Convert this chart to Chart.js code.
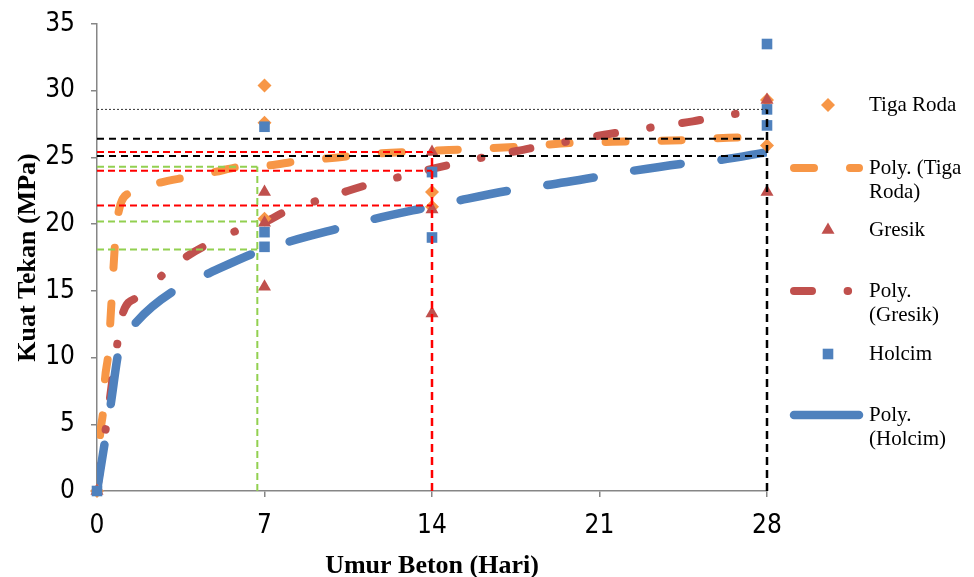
<!DOCTYPE html>
<html lang="id">
<head>
<meta charset="UTF-8">
<title>Kuat Tekan Beton</title>
<script src="https://cdn.jsdelivr.net/npm/chart.js"></script>
<style>
    body { margin: 0; background: #fff; }
    #wrap { width: 974px; height: 577px; position: relative; }
</style>
</head>
<body>
<div id="wrap"><canvas id="kuatTekanChart"></canvas></div>
<script>
// --- data ---
const ageTicks = [0, 7, 14, 21, 28];

const tigaRodaAge      = [0, 7, 7, 7, 14, 14, 28, 28];
const tigaRodaStrength = [0, 30.4, 27.6, 20.4, 22.4, 21.3, 29.3, 25.9];
const gresikAge        = [0, 7, 7, 7, 14, 14, 14, 28, 28];
const gresikStrength   = [0, 22.4, 20.1, 15.3, 25.4, 21.1, 13.3, 29.3, 22.4];
const holcimAge        = [0, 7, 7, 7, 14, 14, 28, 28, 28];
const holcimStrength   = [0, 27.3, 19.4, 18.3, 23.9, 19.0, 33.5, 28.6, 27.4];

// trendlines (Poly.)
const polyTigaRodaAge      = [0, 0.13, 0.26, 0.33, 0.47, 0.61, 0.76, 0.9, 1.4, 2.6, 3.7, 4.9, 6, 7.2, 8.3, 9.5, 10.6, 11.8, 14.1, 15.3, 17.6, 20, 22.3, 24.6, 27, 28];
const polyTigaRodaStrength = [0, 4.2, 6.1, 8.3, 10.3, 14.3, 18.7, 20.9, 22.4, 23.1, 23.5, 23.9, 24.3, 24.4, 24.7, 24.9, 25.1, 25.3, 25.5, 25.6, 25.8, 26.1, 26.2, 26.3, 26.5, 26.5];
const polyGresikAge        = [0, 0.5, 0.83, 1.04, 1.74, 2.68, 3.68, 4.65, 5.83, 6.95, 8.05, 9.28, 10.5, 11.6, 12.8, 13.9, 15.1, 16.4, 17.6, 18.7, 20, 21.2, 22.3, 23.7, 24.9, 26, 27.3, 28];
const polyGresikStrength   = [0, 6.4, 10.8, 13.1, 14.6, 16.1, 17.5, 18.5, 19.5, 20.1, 21.1, 21.8, 22.5, 23.1, 23.6, 24.1, 24.6, 25.1, 25.5, 25.9, 26.3, 26.7, 27.0, 27.4, 27.7, 28.1, 28.4, 28.6];
const polyHolcimAge        = [0, 0.375, 0.57, 0.93, 1.67, 3.47, 4.65, 6.67, 8.05, 10.35, 11.6, 13.9, 15.2, 17.5, 18.7, 21.1, 22.4, 24.8, 26, 28];
const polyHolcimStrength   = [0, 4.2, 6.45, 10.7, 12.7, 15.3, 16.3, 17.9, 18.7, 19.8, 20.4, 21.3, 21.8, 22.6, 22.9, 23.6, 24.0, 24.6, 24.8, 25.4];

// guide lines
const greenAge = 6.7;
const greenLevels = [24.3, 20.2, 18.1];
const redAge = 14;
const redLevels = [25.4, 24.0, 21.4];
const blackAge = 28;
const blackLevels = [26.4, 25.1];
const dottedLevel = 28.6;

const ORANGE = '#F79646', RED = '#C0504D', BLUE = '#4F81BD';

function pairs(xs, ys) {
    return xs.map((x, i) => ({x: x, y: ys[i]}));
}

function guide(points, color, width, dash) {
    return {
        data: points, showLine: true, borderColor: color, borderWidth: width,
        borderDash: dash, pointRadius: 0, order: 0, clip: false
    };
}

const datasets = [];

// trendlines (bottom)
datasets.push({
    label: 'Poly. (Tiga Roda)', data: pairs(polyTigaRodaAge, polyTigaRodaStrength),
    showLine: true, borderColor: ORANGE, borderWidth: 8, borderDash: [20, 36],
    borderCapStyle: 'round', cubicInterpolationMode: 'monotone', pointRadius: 0, order: 4
});
datasets.push({
    label: 'Poly. (Gresik)', data: pairs(polyGresikAge, polyGresikStrength),
    showLine: true, borderColor: RED, borderWidth: 8, borderDash: [18, 35.6, 0.5, 31.9],
    borderDashOffset: 77.5,
    borderCapStyle: 'round', cubicInterpolationMode: 'monotone', pointRadius: 0, order: 3
});
datasets.push({
    label: 'Poly. (Holcim)', data: pairs(polyHolcimAge, polyHolcimStrength),
    showLine: true, borderColor: BLUE, borderWidth: 8.5, borderDash: [47, 41],
    borderCapStyle: 'round', cubicInterpolationMode: 'monotone', pointRadius: 0, order: 2
});

// measured points
datasets.push({
    label: 'Tiga Roda', data: pairs(tigaRodaAge, tigaRodaStrength), showLine: false,
    pointStyle: 'rectRot', pointRadius: 7, backgroundColor: ORANGE, borderColor: ORANGE,
    borderWidth: 0, order: 1.3, clip: false
});
datasets.push({
    label: 'Gresik', data: pairs(gresikAge, gresikStrength), showLine: false,
    pointStyle: 'triangle', pointRadius: 7.5, backgroundColor: RED, borderColor: RED,
    borderWidth: 0, order: 1.2, clip: false
});
datasets.push({
    label: 'Holcim', data: pairs(holcimAge, holcimStrength), showLine: false,
    pointStyle: 'rect', pointRadius: 7.5, backgroundColor: BLUE, borderColor: BLUE,
    borderWidth: 0, order: 1.1, clip: false
});

// guide lines on top
greenLevels.forEach(v => datasets.push(guide([{x: 0, y: v}, {x: greenAge, y: v}], '#92D050', 2, [7, 4])));
datasets.push(guide([{x: greenAge, y: 0}, {x: greenAge, y: greenLevels[0]}], '#92D050', 2, [7, 4]));
redLevels.forEach(v => datasets.push(guide([{x: 0, y: v}, {x: redAge, y: v}], '#FF0000', 2, [7, 4])));
datasets.push(guide([{x: redAge, y: 0}, {x: redAge, y: redLevels[0]}], '#FF0000', 2.5, [8, 5]));
blackLevels.forEach(v => datasets.push(guide([{x: 0, y: v}, {x: blackAge, y: v}], '#000000', 2, [7, 5])));
datasets.push(guide([{x: 0, y: dottedLevel}, {x: blackAge, y: dottedLevel}], '#333333', 1, [2, 2]));
datasets.push(guide([{x: blackAge, y: 0}, {x: blackAge, y: dottedLevel}], '#000000', 2.5, [8, 5]));

// legend on the right, drawn like the Excel one
const legendRows = [
    {ds: 3, lines: ['Tiga Roda'], y: 105},
    {ds: 0, lines: ['Poly. (Tiga', 'Roda)'], y: 168},
    {ds: 4, lines: ['Gresik'], y: 230},
    {ds: 1, lines: ['Poly.', '(Gresik)'], y: 291},
    {ds: 5, lines: ['Holcim'], y: 354},
    {ds: 2, lines: ['Poly.', '(Holcim)'], y: 415, solid: true}
];

function drawMarker(ctx, style, r, x, y) {
    ctx.beginPath();
    if (style === 'rectRot') {
        ctx.moveTo(x, y - r); ctx.lineTo(x + r, y); ctx.lineTo(x, y + r); ctx.lineTo(x - r, y);
    } else if (style === 'triangle') {
        ctx.moveTo(x, y - r);
        ctx.lineTo(x + r * 0.866, y + r * 0.5);
        ctx.lineTo(x - r * 0.866, y + r * 0.5);
    } else {
        const s = r * Math.SQRT1_2;
        ctx.rect(x - s, y - s, 2 * s, 2 * s);
    }
    ctx.closePath();
    ctx.fill();
}

const excelLegend = {
    id: 'excelLegend',
    afterDraw(chart) {
        const ctx = chart.ctx;
        ctx.save();
        legendRows.forEach(row => {
            const ds = chart.data.datasets[row.ds];
            if (ds.showLine) {
                ctx.strokeStyle = ds.borderColor;
                ctx.lineWidth = ds.borderWidth;
                ctx.lineCap = 'round';
                ctx.setLineDash(row.solid ? [] : ds.borderDash);
                ctx.beginPath();
                ctx.moveTo(794, row.y);
                ctx.lineTo(859, row.y);
                ctx.stroke();
                ctx.setLineDash([]);
            } else {
                ctx.fillStyle = ds.backgroundColor;
                drawMarker(ctx, ds.pointStyle, ds.pointRadius, 828, row.y);
            }
            ctx.fillStyle = '#000';
            ctx.font = '21px "Liberation Serif", "Times New Roman", serif';
            ctx.textBaseline = 'middle';
            ctx.textAlign = 'left';
            row.lines.forEach((t, i) => ctx.fillText(t, 869, row.y + i * 24));
        });
        ctx.restore();
    }
};

const tickFont = {family: '"Liberation Sans Narrow", "DejaVu Sans Condensed", sans-serif', size: 26};
const titleFont = {family: '"Liberation Serif", "Times New Roman", serif', size: 26, weight: 'bold'};

new Chart(document.getElementById('kuatTekanChart'), {
    type: 'scatter',
    data: {datasets: datasets},
    plugins: [excelLegend],
    options: {
        responsive: true,
        maintainAspectRatio: false,
        animation: false,
        layout: {padding: {top: 24, right: 207, left: 0, bottom: 0}},
        plugins: {legend: {display: false}, tooltip: {enabled: false}},
        scales: {
            x: {
                type: 'linear', min: 0, max: 28,
                afterBuildTicks: scale => { scale.ticks = ageTicks.map(v => ({value: v})); },
                afterFit: scale => { scale.height = 86; scale.paddingLeft = 0; scale.paddingRight = 0; },
                border: {display: true, color: '#868686', width: 1.5},
                grid: {drawOnChartArea: false, drawTicks: true, tickLength: 6, color: '#868686', lineWidth: 1.5},
                ticks: {font: tickFont, color: '#000', padding: 14, maxRotation: 0},
                title: {display: true, text: 'Umur Beton (Hari)', font: titleFont, color: '#000', padding: {top: 0, bottom: -5}}
            },
            y: {
                min: 0, max: 35,
                afterFit: scale => { scale.width = 97; scale.paddingTop = 0; scale.paddingBottom = 0; },
                border: {display: true, color: '#868686', width: 1.5},
                grid: {drawOnChartArea: false, drawTicks: true, tickLength: 6, color: '#868686', lineWidth: 1.5},
                ticks: {stepSize: 5, font: tickFont, color: '#000', padding: 16},
                title: {display: true, text: 'Kuat Tekan (MPa)', font: titleFont, color: '#000', padding: {top: 13, bottom: 0}}
            }
        }
    }
});
</script>
</body>
</html>
